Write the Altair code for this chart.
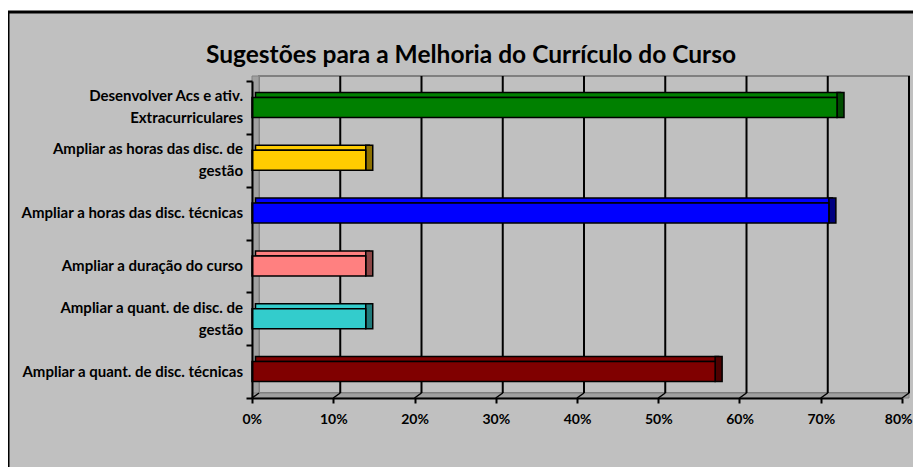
import altair as alt
import pandas as pd

title_text = "Sugestões para a Melhoria do Currículo do Curso"
labels = [
    "Desenvolver Acs e ativ.|Extracurriculares",
    "Ampliar as horas das disc. de|gestão",
    "Ampliar a horas das disc. técnicas",
    "Ampliar a duração do curso",
    "Ampliar a quant. de disc. de|gestão",
    "Ampliar a quant. de disc. técnicas",
]
values = [0.72, 0.14, 0.71, 0.14, 0.14, 0.57]
colors = ["#008000", "#FFCC00", "#0000FF", "#FF8080", "#33CCCC", "#800000"]
side_colors = ["#004D00", "#8C7000", "#000080", "#8C4646", "#1F7A7A", "#4D0000"]
ticks = [0.0, 0.1, 0.2, 0.3, 0.4, 0.5, 0.6, 0.7, 0.8]

FONT = "Lato"
W, H = 650, 317
DX, DY = 7, 5
PAD_L, PAD_T = 244, 73
TOTAL_W, TOTAL_H = 905, 459

df = pd.DataFrame({"cat": labels, "value": values, "color": colors, "side": side_colors})
tick_df = pd.DataFrame({"t": ticks})
title_df = pd.DataFrame({"title": [title_text]})

x_scale = alt.Scale(domain=[0, 0.8], nice=False, zero=True)
y_scale = alt.Scale(domain=labels, paddingInner=0, paddingOuter=0)

x_axis = alt.Axis(
    values=ticks, format=".0%", title=None, grid=False, zindex=1,
    domain=True, domainColor="black", domainWidth=2,
    ticks=True, tickColor="black", tickWidth=2, tickSize=5,
    labelFont=FONT, labelFontSize=14, labelFontWeight="bold", labelColor="black",
    labelPadding=9, labelFlush=True, labelFlushOffset=10,
)
y_axis = alt.Axis(
    title=None, grid=False, zindex=1, labels=False,
    domain=True, domainColor="black", domainWidth=2,
    ticks=True, tickColor="black", tickWidth=2, tickSize=6, tickBand="extent",
)

# chart frame (gray area with black border)
frame = alt.Chart(title_df).mark_rect(
    fill="#C0C0C0", stroke="black", strokeWidth=3
).encode(
    x=alt.value(-PAD_L), y=alt.value(-PAD_T + 4),
    x2=alt.value(TOTAL_W - PAD_L + 20), y2=alt.value(TOTAL_H - PAD_T + 20),
)

# 3D walls
left_wall = alt.Chart(title_df).mark_rect(
    fill="#A0A0A0", stroke="#808080", strokeWidth=1
).encode(x=alt.value(0), x2=alt.value(DX), y=alt.value(-DY), y2=alt.value(H))
floor = alt.Chart(title_df).mark_rect(
    fill="#A0A0A0", stroke="#808080", strokeWidth=1
).encode(x=alt.value(0), x2=alt.value(W + DX), y=alt.value(H - DY), y2=alt.value(H))
back_wall = alt.Chart(title_df).mark_rect(
    fill="#C0C0C0", stroke="#808080", strokeWidth=2
).encode(x=alt.value(DX), x2=alt.value(W + DX), y=alt.value(-DY), y2=alt.value(H - DY))

grid = alt.Chart(tick_df).transform_filter("datum.t > 0").mark_rule(
    color="black", strokeWidth=2, xOffset=DX
).encode(
    x=alt.X("t:Q", scale=x_scale, axis=x_axis),
    y=alt.value(-DY), y2=alt.value(H - DY),
)
floor_ticks = alt.Chart(tick_df).mark_rule(
    color="black", strokeWidth=1.5, x2Offset=DX
).encode(
    x=alt.X("t:Q", scale=x_scale, axis=x_axis),
    x2=alt.X2("t"),
    y=alt.value(H), y2=alt.value(H - DY),
)

top_face = alt.Chart(df).mark_bar(
    size=DY, yOffset=-(10 + DY / 2), xOffset=DX / 2, x2Offset=DX / 2,
    stroke="black", strokeWidth=1.5,
).encode(
    x=alt.X("value:Q", scale=x_scale, axis=x_axis),
    y=alt.Y("cat:N", scale=y_scale, sort=labels, axis=y_axis),
    fill=alt.Fill("color:N", scale=None),
)
right_face = alt.Chart(df).mark_bar(
    size=20 + DY, yOffset=-DY / 2, x2Offset=DX,
    stroke="black", strokeWidth=1.5,
).encode(
    x=alt.X("value:Q", scale=x_scale, axis=x_axis),
    x2=alt.X2("value"),
    y=alt.Y("cat:N", scale=y_scale, sort=labels, axis=y_axis),
    fill=alt.Fill("side:N", scale=None),
)
front = alt.Chart(df).mark_bar(size=20, stroke="black", strokeWidth=1.5).encode(
    x=alt.X("value:Q", scale=x_scale, axis=x_axis),
    y=alt.Y("cat:N", scale=y_scale, sort=labels, axis=y_axis),
    fill=alt.Fill("color:N", scale=None),
)

# category labels (one-line centred; two-line centred on the band)
label_style = dict(font=FONT, fontSize=15, fontWeight="bold", color="black",
                   align="right", baseline="middle", lineBreak="|", lineHeight=22)
labels_one = alt.Chart(df).transform_filter("indexof(datum.cat, '|') < 0").mark_text(
    **label_style
).encode(
    x=alt.value(-9),
    y=alt.Y("cat:N", scale=y_scale, sort=labels, axis=y_axis),
    text="cat:N",
)
labels_two = alt.Chart(df).transform_filter("indexof(datum.cat, '|') >= 0").mark_text(
    dy=-11, **label_style
).encode(
    x=alt.value(-9),
    y=alt.Y("cat:N", scale=y_scale, sort=labels, axis=y_axis),
    text="cat:N",
)

title = alt.Chart(title_df).mark_text(
    font=FONT, fontSize=24.5, fontWeight="bold", color="black",
    align="center", baseline="alphabetic",
).encode(x=alt.value(471 - 252), y=alt.value(-18), text="title:N")

chart = alt.layer(
    frame, back_wall, left_wall, floor, grid, floor_ticks,
    top_face, right_face, front, labels_one, labels_two, title,
).properties(
    width=W, height=H,
    padding={"left": PAD_L, "top": PAD_T, "right": TOTAL_W - PAD_L - W, "bottom": TOTAL_H - PAD_T - H},
    autosize=alt.AutoSizeParams(type="none"),
    background="white",
).configure_view(stroke=None)

chart.save("out.html", embed_options={"renderer": "svg", "actions": False})
